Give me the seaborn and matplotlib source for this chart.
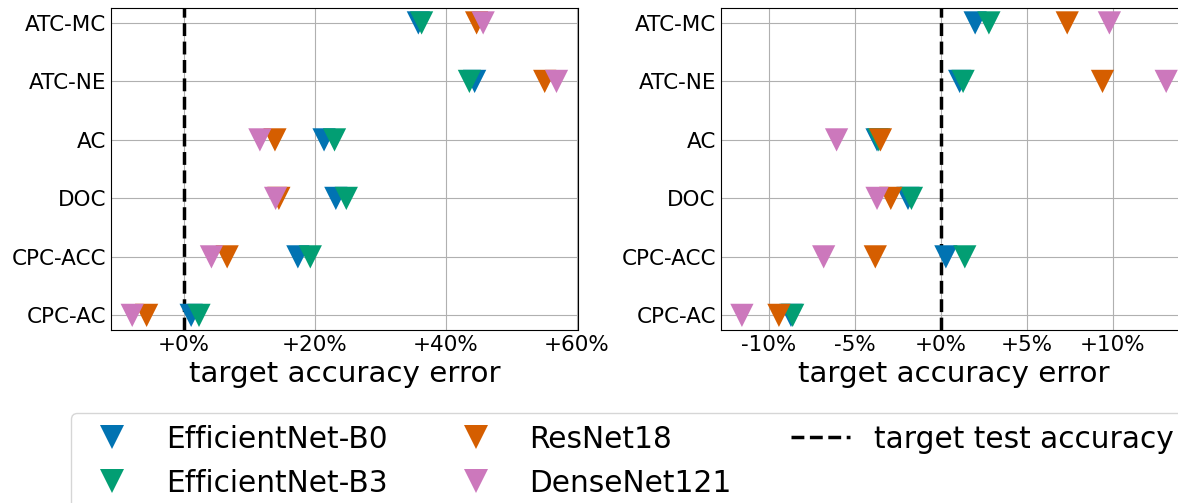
import numpy as np
import pandas as pd
import matplotlib
matplotlib.use("Agg")
import matplotlib.pyplot as plt
from matplotlib.lines import Line2D
from matplotlib.ticker import FuncFormatter, MultipleLocator
import seaborn as sns

methods = ["ATC-MC", "ATC-NE", "AC", "DOC", "CPC-ACC", "CPC-AC"]
models = ["EfficientNet-B0", "EfficientNet-B3", "ResNet18", "DenseNet121"]
colors = ["#0173b2", "#029e73", "#d55e00", "#cc78bc"]

# target accuracy error (%) — left panel
left_b0 = [35.8, 44.4, 21.4, 23.2, 17.4, 1.1]
left_b3 = [36.3, 43.6, 23.0, 24.8, 19.3, 2.3]
left_r18 = [44.7, 55.1, 13.9, 14.5, 6.6, -5.7]
left_d121 = [45.7, 56.9, 11.6, 14.0, 4.2, -7.9]

# target accuracy error (%) — right panel
right_b0 = [2.0, 1.1, -3.7, -1.9, 0.3, -8.7]
right_b3 = [2.8, 1.3, -3.6, -1.7, 1.4, -8.6]
right_r18 = [7.35, 9.4, -3.5, -2.9, -3.8, -9.4]
right_d121 = [9.8, 13.1, -6.05, -3.7, -6.8, -11.55]

xlabel = "target accuracy error"
ref_label = "target test accuracy"


def long_form(series):
    rows = []
    for model, vals in zip(models, series):
        for m, v in zip(methods, vals):
            rows.append({"method": m, "model": model, "error": v})
    return pd.DataFrame(rows)


df_left = long_form([left_b0, left_b3, left_r18, left_d121])
df_right = long_form([right_b0, right_b3, right_r18, right_d121])

plt.rcParams["font.family"] = ["DejaVu Sans"]
fig = plt.figure(figsize=(11.78, 5.03), dpi=100)
W, H = 1178, 503
ax_bottom = (H - 330) / H
ax_height = (330 - 8.3) / H
ax_w = 466.7 / W
ax1 = fig.add_axes([111 / W, ax_bottom, ax_w, ax_height])
ax2 = fig.add_axes([720.7 / W, ax_bottom, ax_w, ax_height])

fmt = FuncFormatter(lambda x, pos: f"{x:+.0f}%")
palette = dict(zip(models, colors))

for ax, df, step in [(ax1, df_left, 20), (ax2, df_right, 5)]:
    ax.set_axisbelow(True)
    ax.grid(True, color="#b0b0b0", linewidth=0.8)
    sns.scatterplot(data=df, x="error", y="method", hue="model",
                    hue_order=models, palette=palette, marker="v", s=280,
                    linewidth=0, legend=False, ax=ax, zorder=3)
    ax.axvline(0, color="black", linestyle="--", linewidth=2.5, zorder=2)
    if not ax.yaxis_inverted():
        ax.invert_yaxis()
    ax.xaxis.set_major_locator(MultipleLocator(step))
    ax.xaxis.set_major_formatter(fmt)
    ax.tick_params(axis="both", length=0, labelsize=15.5, pad=3.5)
    ax.set_xlabel(xlabel, fontsize=21.2)
    ax.set_ylabel("")

handles = [Line2D([0], [0], marker="v", linestyle="none", markersize=16.7,
                  markerfacecolor=c, markeredgewidth=0, color=c) for c in colors]
handles.append(Line2D([0], [0], color="black", linestyle="--", linewidth=2.5))
labels = models + [ref_label]
fig.legend(handles, labels, loc="upper left", ncol=3,
           bbox_to_anchor=(71 / W, (H - 413) / H), borderaxespad=0,
           fontsize=21.3)

fig.savefig("out.png", dpi=100)
